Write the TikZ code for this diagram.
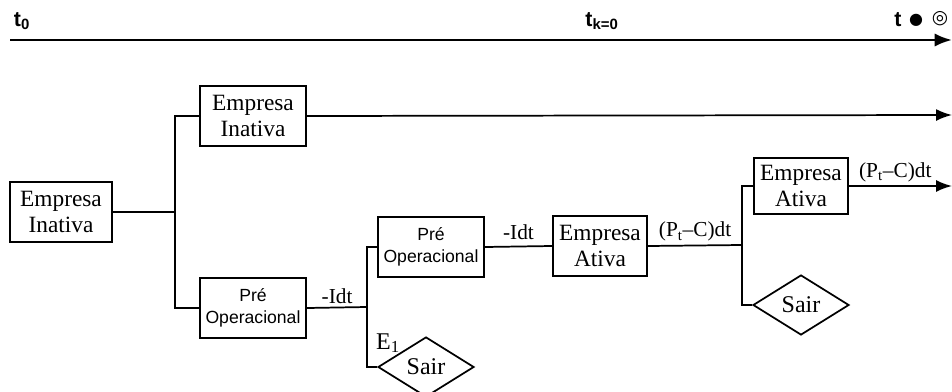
\documentclass[tikz,border=0pt]{standalone}
\usepackage{fontspec}
\setmainfont{Liberation Serif}
\newfontfamily\labsans{Liberation Sans}
\newfontfamily\symfont{DejaVu Sans}
\usetikzlibrary{arrows.meta,shapes.geometric,calc}

\tikzset{
    box/.style={draw, line width=1.3pt, align=center, minimum width=80pt, minimum height=45pt, inner sep=1pt, font=\fontsize{17.5}{19.5}\selectfont},
    abox/.style={box, minimum width=71pt},
    prebox/.style={box, font=\labsans\fontsize{13.2}{16.5}\selectfont},
    sair/.style={draw, diamond, aspect=1.6, line width=1.3pt, minimum width=72pt, minimum height=45pt, inner sep=1pt, font=\fontsize{18}{19}\selectfont},
    wire/.style={line width=1.3pt},
    flow/.style={wire, -{Latex[length=12pt,width=9pt]}},
    lab/.style={font=\fontsize{16}{17}\selectfont, inner sep=2.5pt},
    tlab/.style={font=\labsans\bfseries\fontsize{16}{17}\selectfont, inner sep=0pt}
}

\begin{document}
\begin{tikzpicture}[x=0.75pt, y=-0.75pt]
    \useasboundingbox (0,0) rectangle (952,392);

    % Draw the time axis and its marks
    \coordinate (tstart) at (10,40);
    \coordinate (tend) at (952,40);
    \draw[line width=2pt, -{Latex[length=13pt,width=10pt]}] (tstart) -- (tend);
    \node[tlab] (tzero) at (22,21) {t\textsubscript{0}};
    \node[tlab] (tk) at (602,21) {t\textsubscript{k=0}};
    \node[tlab] (tfin) at (898,20) {t};
    \node[font=\symfont\fontsize{12}{13}\selectfont, inner sep=0pt] (dot) at (916,20) {●};
    \node[font=\symfont\fontsize{14}{15}\selectfont, inner sep=0pt] (ring) at (940,19) {◎};

    % Draw the boxes
    \node[box, minimum width=76pt] (inat0) at (61,212) {Empresa\\Inativa};
    \node[box] (inat1) at (253,116) {Empresa\\Inativa};
    \node[prebox] (pre1) at (253,308) {Pré\\Operacional};
    \node[prebox] (pre2) at (431,247) {Pré\\Operacional};
    \node[abox] (ativ1) at (600,246) {Empresa\\Ativa};
    \node[abox, minimum height=42pt] (ativ2) at (801,186) {Empresa\\Ativa};
    \node[sair] (sair1) at (426,367) {Sair};
    \node[sair] (sair2) at (801,305) {Sair};

    % Draw the branch points and ends
    \coordinate (j1) at (175,212);
    \coordinate (j2) at (367,307);
    \coordinate (j3) at (742,245);
    \coordinate (end1) at (952,115);
    \coordinate (end2) at (952,186);

    % Draw the connectors
    \draw[wire] (inat0.east) -- (j1);
    \draw[wire] (inat1.west) -| (j1) |- (pre1.west);
    \draw[wire] (pre1.east) -- (j2) node[lab, midway, above] {-Idt};
    \draw[wire] (pre2.west) -| (j2) |- (sair1.west);
    \draw[wire] (pre2.east) -- (ativ1.west) node[lab, midway, above, yshift=2pt] {-Idt};
    \draw[wire] (ativ1.east) -- (j3) node[lab, midway, above] {(P\textsubscript{t}--C)dt};
    \draw[wire] (ativ2.west) -| (j3) |- (sair2.west);
    \draw[flow] (inat1.east) -- (end1);
    \draw[flow] (ativ2.east) -- (end2) node[lab, midway, above, xshift=-4pt] {(P\textsubscript{t}--C)dt};

    % Draw the exit label
    \node[lab, font=\fontsize{18}{19}\selectfont] (eone) at (388,343) {E\textsubscript{1}};
\end{tikzpicture}
\end{document}
